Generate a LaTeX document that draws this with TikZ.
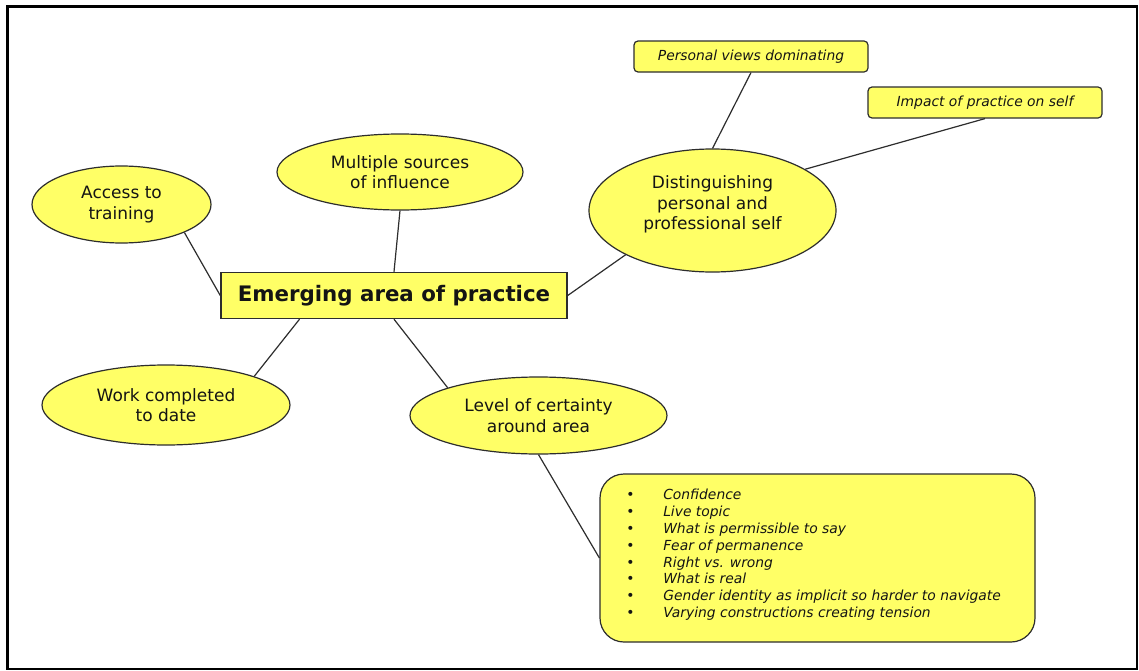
\documentclass[tikz,border=0pt]{standalone}
\usepackage{fontspec}
\setmainfont{DejaVu Sans}
\usetikzlibrary{shapes.geometric,calc}
\definecolor{fillY}{RGB}{255,255,102}
\definecolor{lineC}{RGB}{45,45,45}
\definecolor{txtC}{RGB}{20,20,20}
\begin{document}
\begin{tikzpicture}[x=0.75pt,y=-0.75pt,
  ell/.style={ellipse,draw=lineC,fill=fillY,line width=0.9pt,inner sep=0pt,
    align=center,text=txtC,font=\fontsize{12.75}{15.5}\selectfont},
  cbox/.style={rectangle,draw=lineC,fill=fillY,line width=1.1pt,inner sep=0pt,
    text=txtC,font=\fontsize{16}{19}\selectfont\bfseries},
  sbox/.style={rectangle,rounded corners=3pt,draw=lineC,fill=fillY,line width=0.9pt,
    inner sep=0pt,minimum width=175.5pt,minimum height=23.25pt,text=txtC,
    font=\fontsize{10.4}{12.6}\selectfont\itshape},
  bbox/.style={rectangle,rounded corners=18pt,draw=lineC,fill=fillY,line width=0.9pt,inner sep=0pt},
  btext/.style={align=left,inner sep=0pt,text=txtC,font=\fontsize{10.4}{12.6}\selectfont\itshape},
  conn/.style={draw=lineC,line width=0.9pt},
  etext/.style={align=center,inner sep=0pt,text=txtC,font=\fontsize{12.75}{15.5}\selectfont}]
\useasboundingbox (0,0) rectangle (1139,671);
\fill[white] (0,0) rectangle (1139,671);
% frame
\draw[black,line width=1.2pt] (7,6) rectangle (1137,669);
\draw[black,line width=2.2pt] (7.5,669) -- (7.5,6.5) -- (1137,6.5);

% nodes
\node[cbox,minimum width=259.5pt,minimum height=34.5pt] (central) at (394,295.5) {Emerging area of practice};
\node[ell,minimum width=134.25pt,minimum height=57.75pt] (acc) at (121.5,204.5) {Access to\\training};
\node[ell,minimum width=184.5pt,minimum height=57pt] (msi) at (400,172) {Multiple sources\\of influence};
\node[ell,minimum width=185.25pt,minimum height=92.25pt] (dist) at (712.5,210.5) {};
\node[etext] (disttext) at (712.5,204.5) {Distinguishing\\personal and\\professional self};
\node[ell,minimum width=186pt,minimum height=60pt] (wcd) at (166,405) {Work completed\\to date};
\node[ell,minimum width=192.75pt,minimum height=57.75pt] (lev) at (538.5,415.5) {Level of certainty\\around area};
\node[sbox] (pv) at (751,56.5) {Personal views dominating};
\node[sbox] (imp) at (985,102.5) {Impact of practice on self};
\node[bbox,minimum width=326.25pt,minimum height=126pt] (bul) at (817.5,558) {};
\node[btext,anchor=north west] (bultext) at (626,489) {%
\hbox to 27.75pt{\textbullet\hfil}Confidence\\
\hbox to 27.75pt{\textbullet\hfil}Live topic\\
\hbox to 27.75pt{\textbullet\hfil}What is permissible to say\\
\hbox to 27.75pt{\textbullet\hfil}Fear of permanence\\
\hbox to 27.75pt{\textbullet\hfil}Right vs. wrong\\
\hbox to 27.75pt{\textbullet\hfil}What is real\\
\hbox to 27.75pt{\textbullet\hfil}Gender identity as implicit so harder to navigate\\
\hbox to 27.75pt{\textbullet\hfil}Varying constructions creating tension};

% connectors
\coordinate (cwcd) at ($(central.south west)!0.228!(central.south east)$);
\draw[conn] (acc.-24) -- (central.west);
\draw[conn] (msi.south) -- (central.north);
\draw[conn] (dist.207) -- (central.east);
\draw[conn] (wcd.18) -- (cwcd);
\draw[conn] (lev.163) -- (central.south);
\draw[conn] (lev.south) -- (bul.west);
\draw[conn] (pv.south) -- (dist.north);
\draw[conn] (imp.south) -- (dist.24);
\end{tikzpicture}
\end{document}
